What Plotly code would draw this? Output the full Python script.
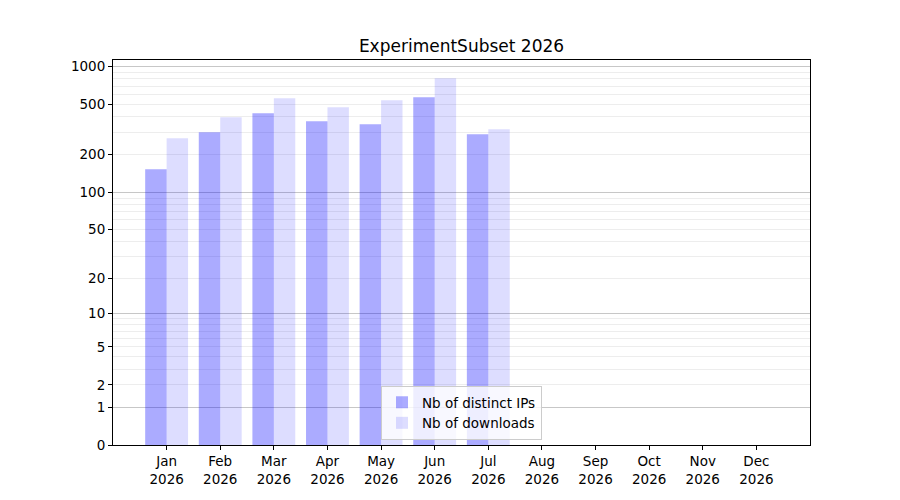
import numpy as np
import plotly.graph_objects as go

months = ["Jan", "Feb", "Mar", "Apr", "May", "Jun", "Jul", "Aug", "Sep", "Oct", "Nov", "Dec"]
year = "2026"
distinct_ips = [153, 302, 427, 369, 349, 572, 291, 0, 0, 0, 0, 0]
downloads = [270, 397, 561, 476, 541, 809, 318, 0, 0, 0, 0, 0]
ytick_labels = [0, 1, 2, 5, 10, 20, 50, 100, 200, 500, 1000]
major_grid = [1, 10, 100, 1000]
minor_grid = [m * d for d in (1, 10, 100) for m in range(2, 10)]


def tr(v):
    # y axis is log10(1 + value)
    return np.log10(1 + np.asarray(v, dtype=float))


x = list(range(len(months)))
ymax = 1.05 * float(tr(max(max(distinct_ips), max(downloads))))
font = "DejaVu Sans, Arial, sans-serif"

fig = go.Figure()
fig.add_trace(go.Bar(
    x=x, y=tr(distinct_ips), name="Nb of distinct IPs",
    marker=dict(color="rgba(0,0,255,0.33)", line=dict(width=0)),
    customdata=distinct_ips, hovertemplate="%{customdata}<extra></extra>",
))
fig.add_trace(go.Bar(
    x=x, y=tr(downloads), name="Nb of downloads",
    marker=dict(color="rgba(0,0,255,0.135)", line=dict(width=0)),
    customdata=downloads, hovertemplate="%{customdata}<extra></extra>",
))
# invisible helper trace to carry the grid axis
fig.add_trace(go.Scatter(x=[0], y=[0], yaxis="y2", mode="markers",
                         marker=dict(opacity=0), showlegend=False, hoverinfo="skip"))

# page body has an 8px margin, so the figure is 892x492 placed at (8, 8)
W, H = 892, 492
L, R, T, B = 105, 90, 52, 55
fig.update_layout(
    width=W, height=H,
    margin=dict(l=L, r=R, t=T, b=B),
    plot_bgcolor="white", paper_bgcolor="white",
    font=dict(family=font, size=13.5, color="black"),
    barmode="group", bargap=0.2, bargroupgap=0,
    title=dict(text="ExperimentSubset " + year,
               x=(L + (W - L - R) / 2) / W, xref="container", xanchor="center",
               y=1 - 38 / H, yref="container", yanchor="middle",
               font=dict(size=17, family=font)),
    legend=dict(x=0.5, xanchor="center", y=0.013, yanchor="bottom",
                bgcolor="rgba(255,255,255,0.8)", bordercolor="#cccccc", borderwidth=1,
                font=dict(size=13.5), tracegroupgap=0),
    xaxis=dict(
        range=[-1, 12], tickmode="array", tickvals=x,
        ticktext=[f"{m}<br>{year}" for m in months],
        showgrid=False, zeroline=False, showline=True, mirror=True,
        linecolor="black", linewidth=1, ticks="outside", ticklen=4, tickcolor="black",
    ),
    yaxis=dict(
        range=[0, ymax], tickmode="array", tickvals=tr(ytick_labels),
        ticktext=[str(v) for v in ytick_labels],
        showgrid=False, zeroline=False, showline=True, mirror=True,
        linecolor="black", linewidth=1, ticks="outside", ticklen=4, tickcolor="black",
    ),
    yaxis2=dict(
        overlaying="y", range=[0, ymax], tickmode="array", tickvals=tr(major_grid),
        showticklabels=False, ticks="", showline=False, zeroline=False,
        showgrid=True, gridcolor="rgba(0,0,0,0.22)", gridwidth=1,
        minor=dict(tickmode="array", tickvals=tr(minor_grid), showgrid=True,
                   gridcolor="rgba(0,0,0,0.07)", gridwidth=1, ticks=""),
    ),
)

fig.write_html("out.html")
